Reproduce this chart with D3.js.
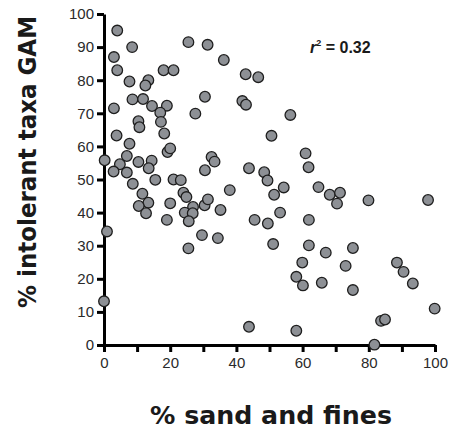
<!DOCTYPE html>
<html>
<head>
<meta charset="utf-8">
<script src="https://cdn.jsdelivr.net/npm/d3@7"></script>
</head>
<body style="margin:0">
<script>
// % sand and fines (x) vs % intolerant taxa GAM (y)
let sandFines = [4, 8.5, 3, 4, 7.7, 13.4, 12.5, 18, 21, 25.5, 31.3, 36.2, 42.8, 46.6, 30.5, 41.8, 42.9,
    8.6, 11.8, 14.5, 19, 3, 17, 27.6, 17.2, 10.4, 10.7, 18.2, 3.8, 7.7, 19.2, 20, 0.2, 4.8, 6.9, 10.4,
    14.4, 2.9, 6.9, 13.5, 32.5, 33.4, 30.5, 43.8, 48.4, 50.6, 56.3, 60.9, 61.8, 8.7, 11.6, 13.4, 10.5,
    12.7, 15.5, 21, 23.2, 20, 19, 24, 24.9, 26.9, 24.4, 26.8, 25.6, 30.4, 31.4, 35.2, 29.6, 34.4, 25.5,
    38, 49.4, 45.5, 49.5, 51.4, 54.3, 53.2, 51.1, 61.9, 64.8, 68.2, 71.3, 70.4, 79.9, 97.9, 61.9, 67,
    75.2, 59.9, 58.1, 60.1, 65.8, 73, 75.2, 88.5, 90.5, 93.3, 99.9, 83.7, 84.9, 58.1, 81.7, 43.8, 0, 0.9];
let intolerant = [95, 90, 87, 83, 79.6, 80, 78.4, 83, 83, 91.5, 90.7, 86.1, 81.8, 80.9, 75, 73.7, 72.6,
    74.2, 74.3, 72.2, 72.3, 71.5, 70.2, 69.9, 67.4, 67.6, 65.8, 63.9, 63.3, 60.8, 58.3, 59.4, 55.8, 54.6, 57.1, 55.3,
    55.7, 52.4, 52.1, 53.4, 56.8, 55.4, 52.8, 53.4, 52.2, 63.2, 69.5, 57.9, 53.7, 48.7, 45.7, 43, 42,
    39.8, 49.9, 50, 49.8, 42.8, 37.8, 46, 44.7, 41.7, 40, 39.8, 37.4, 42.2, 44, 40.8, 33.2, 32.3, 29.2,
    46.8, 49.7, 37.8, 36.7, 45.4, 47.6, 40, 30.5, 37.8, 47.7, 45.4, 46, 42.7, 43.7, 43.8, 30.1, 27.9,
    29.3, 24.9, 20.6, 18, 18.8, 23.9, 16.6, 24.9, 22.1, 18.6, 11, 7.3, 7.7, 4.3, 0.1, 5.5, 13.2, 34.3];
let tickValues = [0, 10, 20, 30, 40, 50, 60, 70, 80, 90, 100];
let xTickLabels = [0, 20, 40, 60, 80, 100];
let xTitle = '% sand and fines';
let yTitle = '% intolerant taxa GAM';

let svg = d3.select('body').append('svg')
    .attr('width', 454)
    .attr('height', 440);

let xScale = d3.scaleLinear().domain([0, 100]).range([104, 435]);
let yScale = d3.scaleLinear().domain([0, 100]).range([345, 14]);

//standard d3 axes, thickened
let xAxis = d3.axisBottom(xScale)
    .tickValues(tickValues)
    .tickSize(7)
    .tickSizeOuter(0)
    .tickPadding(5)
    .tickFormat(d => xTickLabels.includes(d) ? d : '');
let yAxis = d3.axisLeft(yScale)
    .tickValues(tickValues)
    .tickSize(7)
    .tickSizeOuter(0)
    .tickPadding(3);

let gx = svg.append('g')
    .attr('class', 'x axis')
    .attr('transform', `translate(0, ${yScale(0)})`)
    .attr('stroke-width', 3)
    .call(xAxis);
let gy = svg.append('g')
    .attr('class', 'y axis')
    .attr('transform', `translate(${xScale(0)}, 0)`)
    .attr('stroke-width', 3)
    .call(yAxis);

[gx, gy].forEach(g => {
    g.selectAll('text')
        .attr('fill', '#2a2a2a')
        .attr('stroke', 'none')
        .attr('font-family', 'Liberation Sans, Arial, sans-serif')
        .attr('font-size', 15);
});

//points
svg.append('g')
    .selectAll('circle')
    .data(sandFines.map((d, i) => ({x: d, y: intolerant[i]})))
    .enter()
    .append('circle')
    .attr('cx', d => xScale(d.x))
    .attr('cy', d => yScale(d.y))
    .attr('r', 5.3)
    .attr('fill', '#8d9095')
    .attr('stroke', '#1e1e1e')
    .attr('stroke-width', 1.3);

//titles
svg.append('text')
    .attr('x', 271)
    .attr('y', 424)
    .attr('text-anchor', 'middle')
    .attr('textLength', 242)
    .attr('lengthAdjust', 'spacingAndGlyphs')
    .attr('font-family', 'DejaVu Sans, sans-serif')
    .attr('font-weight', 'bold')
    .attr('font-size', 24)
    .attr('fill', '#1a1a1a')
    .text(xTitle);

svg.append('text')
    .attr('transform', 'translate(36, 162) rotate(-90)')
    .attr('text-anchor', 'middle')
    .attr('textLength', 292)
    .attr('lengthAdjust', 'spacingAndGlyphs')
    .attr('font-family', 'DejaVu Sans, sans-serif')
    .attr('font-weight', 'bold')
    .attr('font-size', 24)
    .attr('fill', '#1a1a1a')
    .text(yTitle);

//r squared label
let r2 = svg.append('text')
    .attr('x', 310)
    .attr('y', 53)
    .attr('font-family', 'Liberation Sans, Arial, sans-serif')
    .attr('font-weight', 'bold')
    .attr('font-size', 16)
    .attr('fill', '#1a1a1a');
r2.append('tspan').attr('font-style', 'italic').text('r');
r2.append('tspan').attr('dy', -7).attr('font-size', 9).text('2');
r2.append('tspan').attr('dy', 7).text(' = 0.32');
</script>
</body>
</html>
